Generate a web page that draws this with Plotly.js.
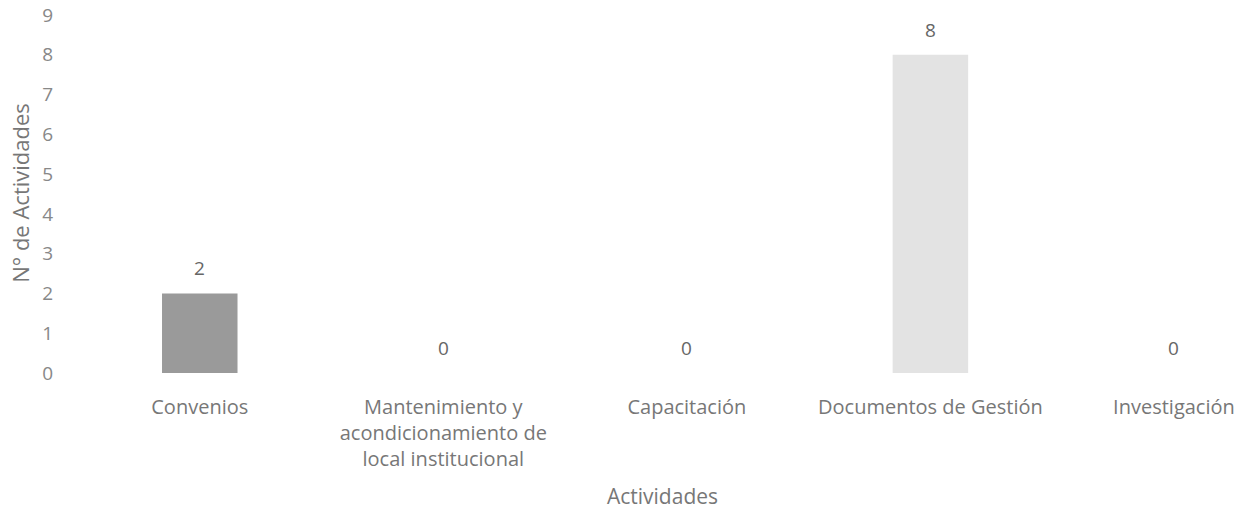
<!DOCTYPE html>
<html><head><meta charset="utf-8">
<script src="https://cdn.plot.ly/plotly-3.0.1.min.js"></script>
<style>body{margin:0;background:#fff}#c{width:1247px;height:515px}</style>
</head><body><div id="c"></div>
<script>
const categories = ["Convenios", "Mantenimiento y<br>acondicionamiento de<br>local institucional", "Capacitación", "Documentos de Gestión", "Investigación"];
const values = [2, 0, 0, 8, 0];
const barColors = ["#9a9a9a", "#bdbdbd", "#bdbdbd", "#e3e3e3", "#bdbdbd"];
const yTicks = [0,1,2,3,4,5,6,7,8,9];

const font = "Open Sans, Liberation Sans, sans-serif";
const idx = categories.map((c,i)=>i);
Plotly.newPlot("c", [{
  type: "bar",
  x: idx,
  y: values,
  width: 0.31,
  marker: {color: barColors},
  hoverinfo: "none"
}], {
  width: 1247, height: 515,
  margin: {l: 78, r: 0, t: 13, b: 142},
  paper_bgcolor: "#fff", plot_bgcolor: "#fff",
  showlegend: false,
  font: {family: font, color: "#777"},
  annotations: values.map((v,i)=>({
    x: i, y: v, xref: "x", yref: "y", text: String(v), showarrow: false,
    yanchor: "bottom", yshift: 10,
    font: {family: font, size: 19, color: "#666"}
  })),
  xaxis: {
    range: [-0.5, 4.3],
    tickmode: "array", tickvals: idx, ticktext: categories,
    tickfont: {family: font, size: 20, color: "#777"},
    ticklabelstandoff: 20,
    showgrid: false, zeroline: false, showline: false, ticks: "",
    title: {text: "Actividades", font: {family: font, size: 21, color: "#777"}, standoff: 18}
  },
  yaxis: {
    range: [0, 9.05], tickmode: "array", tickvals: yTicks, ticktext: yTicks.map(String),
    tickfont: {family: font, size: 19, color: "#888"},
    showgrid: false, zeroline: false, showline: false, ticks: "",
    ticklabelstandoff: 24,
    title: {text: "N° de Actividades", font: {family: font, size: 22, color: "#777"}, standoff: 6}
  }
}, {displayModeBar: false, staticPlot: true});
</script></body></html>
